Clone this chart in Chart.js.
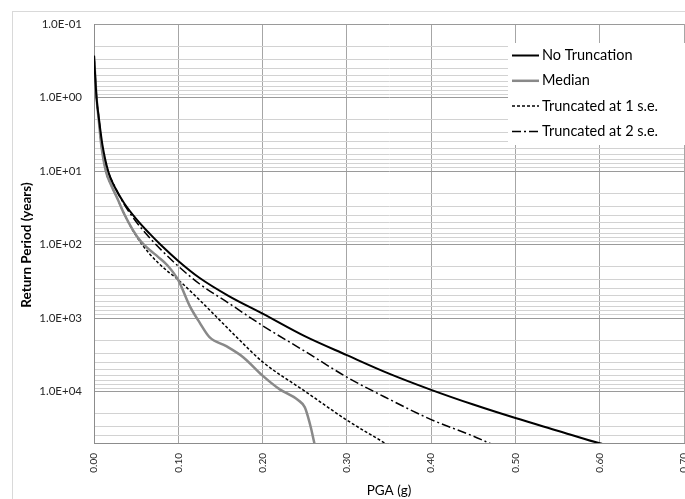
<!DOCTYPE html>
<html>
<head>
<meta charset="utf-8">
<script src="https://cdn.jsdelivr.net/npm/chart.js@4.4.1/dist/chart.umd.min.js"></script>
<style>
    html, body { margin: 0; padding: 0; background: #fff; overflow: hidden; }
    #wrap { position: relative; width: 685px; height: 499px; overflow: hidden; }
    #frame {
        position: absolute; left: 12px; top: 11px; right: -10px; bottom: -10px;
        border-left: 1px solid #d9d9d9; border-top: 1px solid #d9d9d9;
    }
    canvas { position: absolute; left: 0; top: 0; }
</style>
</head>
<body>
<div id="wrap">
    <div id="frame"></div>
    <canvas id="hazardChart" width="709" height="499"></canvas>
</div>
<script>
// PGA (g) and return period (years)
const pgaNoTrunc = [0, 0.003, 0.006, 0.01, 0.017, 0.025, 0.036, 0.05, 0.066, 0.08, 0.10, 0.125, 0.16, 0.20, 0.25, 0.30, 0.35, 0.40, 0.45, 0.50, 0.55, 0.60, 0.62];
const rpNoTrunc = [0.27, 1.0, 2.0, 4.4, 10.2, 16.9, 27.6, 44.6, 71, 103, 167, 283, 502, 869, 1760, 3190, 5690, 9460, 15000, 22900, 34000, 50500, 57000];

const pgaMedian = [0, 0.003, 0.0056, 0.0085, 0.014, 0.020, 0.028, 0.036, 0.046, 0.056, 0.066, 0.076, 0.087, 0.10, 0.1135, 0.125, 0.137, 0.157, 0.177, 0.20, 0.22, 0.242, 0.25, 0.254, 0.2577, 0.2606, 0.263];
const rpMedian = [0.27, 1.0, 2.0, 4.3, 10, 15.2, 24, 38.7, 63, 92, 118, 147, 191, 305, 682, 1137, 1817, 2410, 3400, 6060, 9250, 13000, 16250, 22200, 32300, 45600, 60400];

const pgaTrunc1 = [0, 0.003, 0.0056, 0.0085, 0.014, 0.020, 0.028, 0.036, 0.046, 0.056, 0.066, 0.076, 0.087, 0.10, 0.125, 0.15, 0.173, 0.20, 0.25, 0.30, 0.343, 0.357];
const rpTrunc1 = [0.27, 1.0, 2.0, 4.3, 10, 15.2, 24, 38.7, 64, 96, 134, 177, 229, 302, 564, 1091, 2004, 3940, 9840, 24400, 48500, 60400];

const pgaTrunc2 = [0, 0.003, 0.006, 0.009, 0.016, 0.025, 0.036, 0.05, 0.066, 0.08, 0.10, 0.125, 0.16, 0.20, 0.25, 0.30, 0.35, 0.40, 0.45, 0.466, 0.48];
const rpTrunc2 = [0.27, 1.0, 2.0, 4.3, 9.6, 16.5, 28.6, 48.9, 81, 119, 197, 341, 628, 1268, 2820, 6350, 12650, 24000, 40300, 48500, 56800];

const seriesLabels = ["No Truncation", "Median", "Truncated at 1 s.e.", "Truncated at 2 s.e."];

// axis ticks
const yDecades = [0.1, 1, 10, 100, 1000, 10000];
const yMinorSteps = [1, 2, 3, 4, 5, 6, 7, 8, 9];
const yMin = 0.1;
const yMax = 50000;
const xMin = 0;
const xMax = 0.7;
const xStep = 0.1;

const FONT = "Lato, 'Open Sans', sans-serif";

function toPoints(xs, ys) {
    return xs.map((x, i) => ({ x: x, y: ys[i] }));
}

function isDecade(v) {
    const l = Math.log10(v);
    return Math.abs(l - Math.round(l)) < 1e-9;
}

function sciLabel(v) {
    const e = Math.round(Math.log10(v));
    const sign = e < 0 ? "-" : "+";
    return "1.0E" + sign + String(Math.abs(e)).padStart(2, "0");
}

const yTickValues = [];
for (const d of yDecades) {
    for (const s of yMinorSteps) {
        const v = d * s;
        if (v <= yMax + 1e-9) yTickValues.push(v);
    }
}

const legendBox = {
    id: "legendBox",
    afterDatasetsDraw(chart) {
        const ctx = chart.ctx;
        ctx.save();
        ctx.fillStyle = "#ffffff";
        ctx.fillRect(508, 43, 200, 102);
        chart.data.datasets.forEach((ds, i) => {
            const y = 55.5 + i * 25.3;
            ctx.beginPath();
            ctx.strokeStyle = ds.borderColor;
            ctx.lineWidth = ds.borderWidth;
            ctx.setLineDash(ds.borderDash || []);
            ctx.moveTo(512, y);
            ctx.lineTo(539, y);
            ctx.stroke();
            ctx.setLineDash([]);
            ctx.fillStyle = "#000000";
            ctx.font = "14.5px " + FONT;
            ctx.textBaseline = "middle";
            ctx.textAlign = "left";
            ctx.fillText(ds.label, 542, y);
        });
        ctx.restore();
    }
};

const ctx = document.getElementById("hazardChart").getContext("2d");

new Chart(ctx, {
    type: "line",
    data: {
        datasets: [{
            label: seriesLabels[0],
            data: toPoints(pgaNoTrunc, rpNoTrunc),
            borderColor: "#000000",
            borderWidth: 2
        }, {
            label: seriesLabels[1],
            data: toPoints(pgaMedian, rpMedian),
            borderColor: "#898989",
            borderWidth: 2.5
        }, {
            label: seriesLabels[2],
            data: toPoints(pgaTrunc1, rpTrunc1),
            borderColor: "#000000",
            borderWidth: 1.5,
            borderDash: [3, 2]
        }, {
            label: seriesLabels[3],
            data: toPoints(pgaTrunc2, rpTrunc2),
            borderColor: "#000000",
            borderWidth: 1.5,
            borderDash: [9, 3, 2, 3]
        }]
    },
    options: {
        responsive: false,
        animation: false,
        events: [],
        layout: {
            padding: { left: 15, top: 24, right: 25, bottom: 0 }
        },
        elements: {
            point: { radius: 0 },
            line: { cubicInterpolationMode: "monotone", fill: false }
        },
        plugins: {
            legend: { display: false },
            tooltip: { enabled: false }
        },
        scales: {
            x: {
                type: "linear",
                min: xMin,
                max: xMax,
                afterFit: scale => { scale.height = 56; },
                grid: { color: "#a6a6a6", drawTicks: false },
                border: { color: "#8c8c8c" },
                ticks: {
                    stepSize: xStep,
                    autoSkip: false,
                    minRotation: 90,
                    maxRotation: 90,
                    padding: 10,
                    color: "#262626",
                    font: { family: FONT, size: 10 },
                    callback: v => Number(v).toFixed(2)
                },
                title: {
                    display: true,
                    text: "PGA (g)",
                    color: "#000000",
                    padding: { top: 0, bottom: 0 },
                    font: { family: FONT, size: 13.5 }
                }
            },
            y: {
                type: "logarithmic",
                reverse: true,
                min: yMin,
                max: yMax,
                afterFit: scale => { scale.width = 79; },
                afterBuildTicks: scale => {
                    scale.ticks = yTickValues.map(v => ({ value: v, major: isDecade(v) }));
                },
                grid: {
                    drawTicks: false,
                    color: c => (c.tick && isDecade(c.tick.value)) ? "#9a9a9a" : "#d2d2d2"
                },
                border: { color: "#8c8c8c" },
                ticks: {
                    autoSkip: false,
                    padding: 12,
                    color: "#262626",
                    font: { family: FONT, size: 11.5 },
                    callback: v => isDecade(v) ? sciLabel(v) : ""
                },
                title: {
                    display: true,
                    // trailing blanks nudge the centred title a little lower, as in the original
                    text: "Return Period (years)       ",
                    color: "#000000",
                    font: { family: FONT, size: 13.5, weight: "bold" }
                }
            }
        }
    },
    plugins: [legendBox]
});
</script>
</body>
</html>
